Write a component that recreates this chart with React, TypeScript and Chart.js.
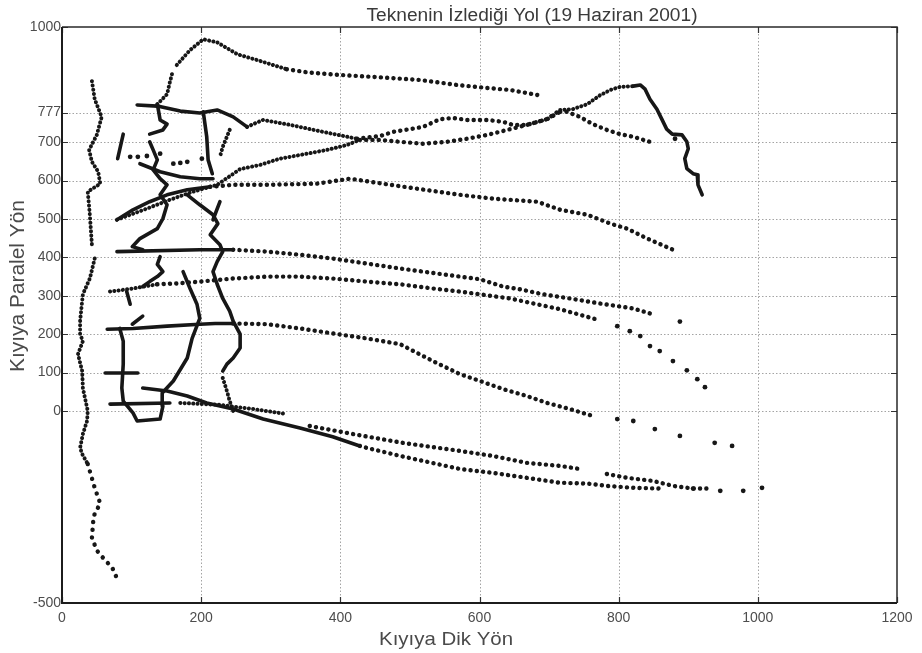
import { useEffect, useRef } from 'react';
import { Chart, registerables } from 'chart.js';

Chart.register(...registerables);

type Pt = [number, number];

// ---- axes ----
const xTickValues = [0, 200, 400, 600, 800, 1000, 1200];
const yTickValues = [-500, 0, 100, 200, 300, 400, 500, 600, 700, 777, 1000];

const titleText = 'Teknenin İzlediği Yol (19 Haziran 2001)';
const xTitle = 'Kıyıya Dik Yön';
const yTitle = 'Kıyıya Paralel Yön';

// ---- boat tracks (x: shore-normal, y: shore-parallel) ----
const shoreNorth: Pt[] = [[43, 859], [47, 812], [57, 766], [50, 719], [39, 680], [43, 649], [52, 623], [55, 592], [37, 571], [40, 511], [43, 433]];
const shoreMiddle: Pt[] = [[47, 397], [40, 345], [30, 304], [26, 234], [26, 200], [30, 182], [23, 148], [29, 104], [30, 60], [37, 0], [36, -26], [30, -60], [26, -96], [29, -112], [37, -138]];
const shoreSouth: Pt[] = [[37, -138], [47, -200], [55, -241], [47, -267], [45, -285], [43, -330], [50, -363], [62, -389], [72, -407], [79, -436]];

const arcLower: Pt[] = [[137, 799], [151, 825], [155, 856], [158, 877]];
const arcPeak: Pt[] = [[165, 901], [184, 940], [203, 968], [223, 960], [252, 929], [280, 914], [323, 890]];
const arcEast: Pt[] = [[323, 890], [352, 882], [400, 875], [457, 869], [515, 862], [568, 849], [612, 841], [644, 836], [683, 823]];

const track777: Pt[] = [[108, 797], [137, 794], [170, 781], [198, 776], [223, 784], [246, 766], [266, 740]];
const track777Mid: Pt[] = [[266, 740], [289, 758], [328, 745], [375, 727], [424, 709]];
const track777Loop: Pt[] = [[424, 709], [457, 716], [476, 727], [500, 734], [519, 740], [543, 760], [562, 763], [582, 758], [611, 758], [634, 753], [648, 745], [668, 745], [697, 760], [716, 779]];
const track777East: Pt[] = [[716, 779], [726, 779], [744, 766], [763, 747], [783, 732], [802, 721], [821, 714], [845, 701]];

const risingWest: Pt[] = [[79, 498], [122, 527], [155, 550], [188, 571], [223, 589], [256, 630], [285, 641], [313, 657], [352, 670], [381, 680], [410, 693], [428, 706]];
const risingMid: Pt[] = [[428, 706], [457, 706], [486, 701], [519, 696], [553, 701], [582, 709], [611, 719], [640, 732], [668, 745], [697, 760], [716, 784]];
const risingUpper: Pt[] = [[716, 784], [734, 786], [755, 799], [773, 822], [788, 836], [802, 844], [821, 846]];
const risingPeak: Pt[] = [[821, 846], [831, 849], [838, 838], [845, 812], [855, 786], [862, 760], [869, 734], [877, 721], [891, 719], [898, 701], [900, 683], [895, 657], [898, 631], [907, 618], [913, 615], [914, 589], [920, 563]];

const line600West: Pt[] = [[79, 498], [102, 524], [126, 545], [151, 563], [180, 576], [213, 584]];
const line600: Pt[] = [[213, 584], [246, 589], [295, 589], [366, 592], [414, 605], [461, 592], [510, 579], [572, 563], [619, 553], [683, 545], [716, 524], [755, 511], [788, 488], [812, 475], [841, 449], [878, 420]];

const line400West: Pt[] = [[79, 415], [198, 420], [246, 420]];
const line400: Pt[] = [[246, 420], [295, 415], [342, 407], [389, 397], [438, 384], [486, 371], [572, 350], [601, 343], [634, 324], [658, 317], [691, 304], [730, 293], [773, 280], [821, 267], [845, 254]];
const line400End: Pt[] = [[888, 233]];

const line300West: Pt[] = [[69, 311], [102, 319], [137, 330]];
const line300: Pt[] = [[137, 330], [165, 332], [198, 337], [246, 345], [295, 350], [342, 350], [389, 345], [438, 337], [486, 330], [533, 319], [572, 311], [644, 293], [716, 265], [773, 236]];
const line300End: Pt[] = [[798, 221], [816, 208], [831, 195], [845, 169], [859, 156], [878, 130], [898, 106], [913, 83], [924, 62]];

const line200West: Pt[] = [[65, 213], [102, 215], [151, 221], [198, 226], [220, 228], [246, 228]];
const line200: Pt[] = [[246, 228], [295, 226], [342, 215], [389, 202], [438, 189], [486, 174], [533, 130], [572, 96], [601, 78], [634, 57], [668, 39], [697, 21], [730, 5], [763, -13]];
const line200End: Pt[] = [[798, -21], [821, -26], [852, -47], [888, -65], [938, -83], [963, -91]];

const line100: Pt[] = [[62, 99], [109, 99]];

const zeroWest: Pt[] = [[69, 18], [155, 21]];
const zeroMid: Pt[] = [[170, 21], [227, 16], [275, 5], [323, -8]];
const zeroEast: Pt[] = [[356, -39], [418, -60], [490, -83], [572, -104], [619, -117], [668, -135], [716, -143], [744, -151]];
const zeroFar: Pt[] = [[783, -164], [812, -174], [849, -182], [878, -195], [907, -202], [931, -202]];

const southWest: Pt[] = [[116, 60], [151, 52], [180, 39], [208, 21], [246, 5], [289, -21], [342, -44], [389, -67], [428, -91]];
const southMid: Pt[] = [[428, -91], [438, -96], [486, -117], [572, -151], [619, -161], [668, -174], [716, -187], [755, -189], [783, -195], [821, -200], [859, -202]];
const southEnd: Pt[] = [[907, -202], [946, -208], [979, -208], [1006, -200]];

const loopTrack: Pt[] = [[83, 215], [88, 182], [88, 122], [86, 60], [88, 26], [102, -5], [108, -26], [141, -21], [145, 13], [144, 47], [160, 78], [180, 138], [187, 189], [198, 241], [194, 278], [184, 319], [174, 363]];

const pierEast: Pt[] = [[180, 563], [198, 537], [217, 511], [224, 488], [213, 459], [227, 433], [231, 415], [223, 389], [217, 363], [223, 330], [231, 293], [241, 260], [246, 234], [256, 200], [256, 164], [246, 138], [237, 122], [231, 104]];
const pierFoot: Pt[] = [[231, 86], [237, 52], [241, 26], [246, 0]];
const pierNorth: Pt[] = [[203, 779], [208, 714], [210, 654], [216, 618]];
const pierSlant: Pt[] = [[241, 732], [231, 688], [227, 662]];
const pierSlantLow: Pt[] = [[227, 545], [217, 498]];

const knotNorth: Pt[] = [[137, 799], [141, 758], [151, 747], [145, 732], [126, 721]];
const knotMiddle: Pt[] = [[126, 701], [131, 680], [137, 654], [131, 628], [141, 605], [151, 589], [141, 563], [151, 537], [145, 501], [137, 475], [112, 449], [101, 428], [116, 420]];
const knotSouth: Pt[] = [[141, 402], [137, 382], [145, 363], [137, 350], [126, 337], [116, 324]];
const knotCross: Pt[] = [[112, 644], [141, 623], [170, 610], [198, 605], [217, 605]];
const knotDots: Pt[] = [[98, 662], [109, 662], [122, 664], [141, 670], [160, 644], [170, 646], [180, 649], [201, 657]];

const dashWest: Pt[] = [[88, 721], [80, 657]];
const stub200: Pt[] = [[101, 226], [116, 247]];
const stub300: Pt[] = [[93, 311], [98, 278]];
const lonePoint: Pt[] = [[881, 709]];

type Look = 'solid' | 'dense' | 'dotted' | 'sparse' | 'dots';

const LOOKS: Record<Look, { width: number; dash: number[]; line: boolean }> = {
  solid: { width: 3.6, dash: [], line: true },
  dense: { width: 4, dash: [0.1, 4.2], line: true },
  dotted: { width: 4.4, dash: [0.1, 6.2], line: true },
  sparse: { width: 4.4, dash: [0.1, 7.6], line: true },
  dots: { width: 0, dash: [], line: false },
};

const TRACKS: [Pt[], Look][] = [
  [shoreNorth, 'dense'], [shoreMiddle, 'dense'], [shoreSouth, 'sparse'],
  [arcLower, 'dense'], [arcPeak, 'dense'], [arcEast, 'dotted'],
  [track777, 'solid'], [track777Mid, 'dense'], [track777Loop, 'dotted'], [track777East, 'dotted'],
  [risingWest, 'dense'], [risingMid, 'dotted'], [risingUpper, 'dense'], [risingPeak, 'solid'],
  [line600West, 'solid'], [line600, 'dotted'],
  [line400West, 'solid'], [line400, 'dotted'], [line400End, 'dots'],
  [line300West, 'dense'], [line300, 'dotted'], [line300End, 'dots'],
  [line200West, 'solid'], [line200, 'dotted'], [line200End, 'dots'],
  [line100, 'solid'],
  [zeroWest, 'solid'], [zeroMid, 'dense'], [zeroEast, 'dotted'], [zeroFar, 'dotted'],
  [southWest, 'solid'], [southMid, 'dotted'], [southEnd, 'dots'],
  [loopTrack, 'solid'],
  [pierEast, 'solid'], [pierFoot, 'dense'], [pierNorth, 'solid'], [pierSlant, 'dense'], [pierSlantLow, 'solid'],
  [knotNorth, 'solid'], [knotMiddle, 'solid'], [knotSouth, 'solid'], [knotCross, 'solid'], [knotDots, 'dots'],
  [dashWest, 'solid'], [stub200, 'solid'], [stub300, 'solid'], [lonePoint, 'dots'],
];

const INK = '#171717';
const FONT = '"Liberation Sans", Arial, sans-serif';

function fittedText(
  ctx: CanvasRenderingContext2D,
  text: string,
  size: number,
  cx: number,
  baseY: number,
  width: number,
  angle: number,
  color: string,
) {
  ctx.save();
  ctx.font = `${size}px ${FONT}`;
  const w = ctx.measureText(text).width;
  ctx.translate(cx, baseY);
  ctx.rotate(angle);
  ctx.scale(width / w, 1);
  ctx.textAlign = 'center';
  ctx.textBaseline = 'alphabetic';
  ctx.fillStyle = color;
  ctx.fillText(text, 0, 0);
  ctx.restore();
}

const framePlugin = {
  id: 'matlabFrame',
  beforeDatasetsDraw(chart: any) {
    const { ctx, chartArea: a } = chart;
    const xs = chart.scales.x;
    const ys = chart.scales.y;
    ctx.save();
    ctx.strokeStyle = '#a4a4a4';
    ctx.lineWidth = 1;
    ctx.setLineDash([1.5, 2]);
    ctx.beginPath();
    for (const v of xTickValues) {
      if (v <= xs.min || v >= xs.max) continue;
      const px = Math.round(xs.getPixelForValue(v)) + 0.5;
      ctx.moveTo(px, a.top);
      ctx.lineTo(px, a.bottom);
    }
    for (const v of yTickValues) {
      if (v <= ys.min || v >= ys.max) continue;
      const py = Math.round(ys.getPixelForValue(v)) + 0.5;
      ctx.moveTo(a.left, py);
      ctx.lineTo(a.right, py);
    }
    ctx.stroke();
    ctx.restore();
  },
  afterDatasetsDraw(chart: any) {
    const { ctx, chartArea: a } = chart;
    const xs = chart.scales.x;
    const ys = chart.scales.y;
    ctx.save();
    ctx.setLineDash([]);
    // inward tick marks
    ctx.strokeStyle = '#333';
    ctx.lineWidth = 1.2;
    ctx.beginPath();
    for (const v of xTickValues) {
      const px = Math.round(xs.getPixelForValue(v)) + 0.5;
      ctx.moveTo(px, a.bottom);
      ctx.lineTo(px, a.bottom - 6);
      ctx.moveTo(px, a.top);
      ctx.lineTo(px, a.top + 6);
    }
    for (const v of yTickValues) {
      const py = Math.round(ys.getPixelForValue(v)) + 0.5;
      ctx.moveTo(a.left, py);
      ctx.lineTo(a.left + 6, py);
      ctx.moveTo(a.right, py);
      ctx.lineTo(a.right - 6, py);
    }
    ctx.stroke();
    // axes box
    ctx.strokeStyle = '#2a2a2a';
    ctx.lineWidth = 1.5;
    ctx.beginPath();
    ctx.moveTo(a.left, a.top);
    ctx.lineTo(a.right, a.top);
    ctx.lineTo(a.right, a.bottom);
    ctx.stroke();
    ctx.strokeStyle = '#1c1c1c';
    ctx.lineWidth = 2;
    ctx.beginPath();
    ctx.moveTo(a.left, a.top);
    ctx.lineTo(a.left, a.bottom);
    ctx.lineTo(a.right, a.bottom);
    ctx.stroke();
    ctx.restore();
  },
  afterDraw(chart: any) {
    const ctx = chart.ctx as CanvasRenderingContext2D;
    fittedText(ctx, titleText, 18, 532, 21, 331, 0, '#3a3a3a');
    fittedText(ctx, xTitle, 19, 446, 645, 134, 0, '#4a4a4a');
    fittedText(ctx, yTitle, 20, 24, 286, 172, -Math.PI / 2, '#4a4a4a');
  },
};

export default function App() {
  const canvasRef = useRef<HTMLCanvasElement | null>(null);

  useEffect(() => {
    const canvas = canvasRef.current;
    if (!canvas) return;

    const datasets = TRACKS.map(([pts, look]) => {
      const st = LOOKS[look];
      return {
        data: pts.map(([x, y]) => ({ x, y })),
        showLine: st.line,
        borderColor: INK,
        backgroundColor: INK,
        borderWidth: st.width,
        borderDash: st.dash,
        borderCapStyle: 'round' as const,
        borderJoinStyle: 'round' as const,
        tension: 0,
        pointRadius: st.line ? 0 : 2.4,
        pointHoverRadius: 0,
        pointBorderWidth: 0,
        pointBackgroundColor: INK,
      };
    });

    const tickFont = { family: FONT, size: 14 };

    const chart = new Chart(canvas, {
      type: 'scatter',
      data: { datasets },
      options: {
        animation: false,
        responsive: false,
        devicePixelRatio: 1,
        events: [],
        layout: { padding: { top: 27, right: 25, left: 0, bottom: 0 } },
        plugins: {
          legend: { display: false },
          tooltip: { enabled: false },
          title: { display: false },
        },
        scales: {
          x: {
            type: 'linear',
            min: 0,
            max: 1200,
            afterBuildTicks: (s: any) => {
              s.ticks = xTickValues.map((v) => ({ value: v }));
            },
            afterFit: (s: any) => {
              s.height = 50;
            },
            grid: { display: false, drawTicks: false },
            border: { display: false },
            ticks: {
              color: '#4d4d4d',
              font: tickFont,
              padding: 7,
              maxRotation: 0,
              autoSkip: false,
              callback: (v: any) => String(v),
            },
          },
          y: {
            type: 'linear',
            min: -500,
            max: 1000,
            afterBuildTicks: (s: any) => {
              s.ticks = yTickValues.map((v) => ({ value: v }));
            },
            afterFit: (s: any) => {
              s.width = 62;
            },
            grid: { display: false, drawTicks: false },
            border: { display: false },
            ticks: {
              color: '#4d4d4d',
              font: tickFont,
              padding: 1,
              autoSkip: false,
              callback: (v: any) => String(v),
            },
          },
        },
      },
      plugins: [framePlugin],
    });

    return () => chart.destroy();
  }, []);

  return (
    <div style={{ position: 'fixed', left: 0, top: 0, width: 922, height: 653, background: '#fff' }}>
      <canvas ref={canvasRef} width={922} height={653} style={{ width: 922, height: 653, display: 'block' }} />
    </div>
  );
}
